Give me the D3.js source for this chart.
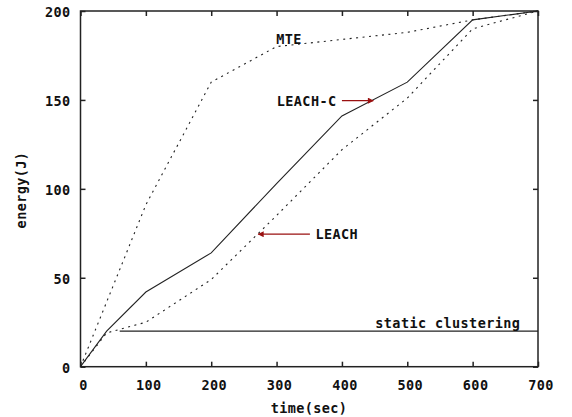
<!DOCTYPE html>
<html>
<head>
<meta charset="utf-8">
<script src="https://cdn.jsdelivr.net/npm/d3@7"></script>
<style>
  html, body { margin: 0; padding: 0; background: #fff; }
  svg text { font-family: "DejaVu Sans Mono", "Liberation Mono", monospace; font-weight: bold; fill: #111; }
</style>
</head>
<body>
<svg id="chart" width="572" height="417"></svg>
<script>
// Energy consumed over time by each clustering protocol
const timeTicks = [0, 100, 200, 300, 400, 500, 600, 700];
const energyTicks = [0, 50, 100, 150, 200];

const mteTime = [0, 100, 200, 300, 400, 500, 600, 700];
const mteEnergy = [0, 91, 160, 180, 184, 188, 195, 200];

const leachCTime = [0, 40, 100, 200, 300, 400, 500, 600, 700];
const leachCEnergy = [0, 20, 42, 64, 103, 141, 160, 195, 200];

const leachTime = [0, 40, 100, 200, 300, 400, 500, 600, 700];
const leachEnergy = [0, 19, 25, 49, 85, 122, 151, 190, 200];

const staticTime = [60, 700];
const staticEnergy = [20, 20];

const svg = d3.select("#chart");
const plotLeft = 80.5, plotRight = 538, plotTop = 11, plotBottom = 366.7;

const x = d3.scaleLinear().domain([0, 700]).range([plotLeft, plotRight]);
const y = d3.scaleLinear().domain([0, 200]).range([plotBottom, plotTop]);

// Series lines
const line = d3.line().x(d => x(d[0])).y(d => y(d[1]));
const zip = (a, b) => a.map((v, i) => [v, b[i]]);

const series = [
  { pts: zip(mteTime, mteEnergy), dash: "2,4.5" },
  { pts: zip(leachTime, leachEnergy), dash: "2,4.5" },
  { pts: zip(leachCTime, leachCEnergy), dash: null },
  { pts: zip(staticTime, staticEnergy), dash: null }
];

svg.append("g").selectAll("path").data(series).join("path")
  .attr("d", d => line(d.pts))
  .attr("fill", "none")
  .attr("stroke", "#222")
  .attr("stroke-width", 1.1)
  .attr("stroke-dasharray", d => d.dash);

// Frame with inward ticks on all four sides
const tickLen = 5;
const frame = svg.append("g").attr("stroke", "#222").attr("stroke-width", 1.5);
frame.append("rect")
  .attr("x", plotLeft).attr("y", plotTop)
  .attr("width", plotRight - plotLeft).attr("height", plotBottom - plotTop)
  .attr("fill", "none");

const bottomAxis = d3.axisBottom(x).tickValues(timeTicks).tickSizeInner(-tickLen).tickSizeOuter(0).tickFormat("");
const topAxis = d3.axisTop(x).tickValues(timeTicks).tickSizeInner(-tickLen).tickSizeOuter(0).tickFormat("");
const leftAxis = d3.axisLeft(y).tickValues(energyTicks).tickSizeInner(-tickLen).tickSizeOuter(0).tickFormat("");
const rightAxis = d3.axisRight(y).tickValues(energyTicks).tickSizeInner(-tickLen).tickSizeOuter(0).tickFormat("");

[[bottomAxis, `translate(0,${plotBottom})`], [topAxis, `translate(0,${plotTop})`],
 [leftAxis, `translate(${plotLeft},0)`], [rightAxis, `translate(${plotRight},0)`]].forEach(([ax, tr]) => {
  const g = svg.append("g").attr("transform", tr).call(ax);
  g.select(".domain").remove();
  g.selectAll("line").attr("stroke", "#222").attr("stroke-width", 1.5);
});

// Tick labels
const fontSize = 13.5;
const spacing = 0.4;
svg.append("g").selectAll("text").data(timeTicks).join("text")
  .attr("x", d => x(d) + 3).attr("y", 385)
  .attr("text-anchor", "middle").attr("dominant-baseline", "central")
  .attr("font-size", fontSize).attr("letter-spacing", spacing)
  .text(d => d);

svg.append("g").selectAll("text").data(energyTicks).join("text")
  .attr("x", 70.5).attr("y", d => y(d) + 1)
  .attr("text-anchor", "end").attr("dominant-baseline", "central")
  .attr("font-size", fontSize).attr("letter-spacing", spacing)
  .text(d => d);

// Axis titles
svg.append("text")
  .attr("x", 309).attr("y", 408)
  .attr("text-anchor", "middle").attr("dominant-baseline", "central")
  .attr("font-size", fontSize).attr("letter-spacing", spacing)
  .text("time(sec)");

svg.append("text")
  .attr("transform", "translate(21,190) rotate(-90)")
  .attr("text-anchor", "middle").attr("dominant-baseline", "central")
  .attr("font-size", fontSize).attr("letter-spacing", spacing)
  .text("energy(J)");

// Series labels and pointers
const labels = [
  { text: "MTE", t: 319, e: 184.5 },
  { text: "LEACH-C", t: 346, e: 149.6 },
  { text: "LEACH", t: 392, e: 74.5 },
  { text: "static clustering", t: 562, e: 24.4 }
];
svg.append("g").selectAll("text").data(labels).join("text")
  .attr("x", d => x(d.t)).attr("y", d => y(d.e))
  .attr("text-anchor", "middle").attr("dominant-baseline", "central")
  .attr("font-size", fontSize).attr("letter-spacing", spacing)
  .text(d => d.text);

const arrowColor = "#9a1010";
svg.append("defs").append("marker")
  .attr("id", "head").attr("viewBox", "0 0 10 10")
  .attr("refX", 9).attr("refY", 5)
  .attr("markerWidth", 7).attr("markerHeight", 6)
  .attr("markerUnits", "userSpaceOnUse")
  .attr("orient", "auto")
  .append("path").attr("d", "M0,0 L10,5 L0,10 Z").attr("fill", arrowColor);

const pointers = [
  { from: [400, 149.6], to: [448, 149.6] },
  { from: [351, 74.5], to: [272, 74.5] }
];
svg.append("g").selectAll("line").data(pointers).join("line")
  .attr("x1", d => x(d.from[0])).attr("y1", d => y(d.from[1]))
  .attr("x2", d => x(d.to[0])).attr("y2", d => y(d.to[1]))
  .attr("stroke", arrowColor).attr("stroke-width", 1.3)
  .attr("marker-end", "url(#head)");
</script>
</body>
</html>
